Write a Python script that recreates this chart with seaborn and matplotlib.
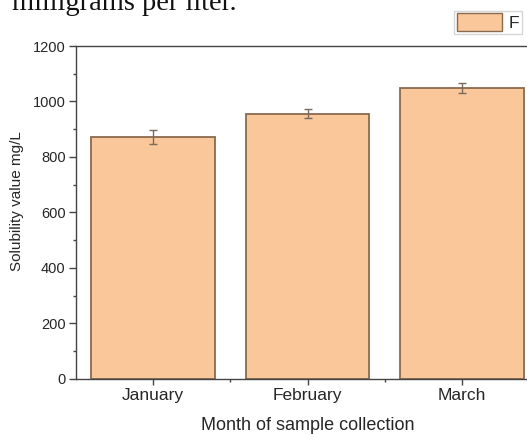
import matplotlib
matplotlib.use("Agg")
import matplotlib.pyplot as plt
from matplotlib.patches import Patch
from matplotlib.ticker import MultipleLocator, FixedLocator
import seaborn as sns
import pandas as pd

months = ["January", "February", "March"]
solubility = [872, 956, 1048]
errors = [25, 17, 19]
series_name = "F"

sns.set_style("ticks")
plt.rcParams["font.family"] = ["Liberation Sans", "DejaVu Sans"]

face = "#F9C799"
edge = "#8A6A4E"
spine = "#444444"

df = pd.DataFrame({"month": months, "value": solubility})

fig = plt.figure(figsize=(5.27, 4.34), dpi=100)
ax = fig.add_axes([0.1442, 0.1274, 0.8786, 0.7666])

sns.barplot(data=df, x="month", y="value", ax=ax, color=face,
            saturation=1, width=0.8, edgecolor=edge, linewidth=1.3,
            errorbar=None)
ax.errorbar(range(len(months)), solubility, yerr=errors, fmt="none",
            ecolor="#7A6A5C", elinewidth=1.0, capsize=3, capthick=1.0)

ax.set_xlim(-0.5, 2.5)
ax.set_ylim(0, 1200)
ax.yaxis.set_major_locator(MultipleLocator(200))
ax.yaxis.set_minor_locator(MultipleLocator(100))
ax.xaxis.set_minor_locator(FixedLocator([0.5, 1.5]))

for s in ax.spines.values():
    s.set_color(spine)
    s.set_linewidth(1.0)

ax.tick_params(axis="y", which="major", length=5.0, width=1.0, color=spine,
               labelsize=10.5, pad=2.5, direction="out")
ax.tick_params(axis="y", which="minor", length=2.5, width=1.0, color=spine,
               direction="out")
ax.tick_params(axis="x", which="major", length=4.0, width=1.0, color=spine,
               labelsize=12.5, pad=3, direction="out")
ax.tick_params(axis="x", which="minor", length=2.2, width=1.0, color=spine,
               direction="out")

ax.set_ylabel("Solubility value mg/L", fontsize=11)
ax.yaxis.set_label_coords(-0.113, 0.535)
ax.set_xlabel("Month of sample collection", fontsize=13, labelpad=10)

handles = [Patch(facecolor=face, edgecolor=edge, linewidth=1.0,
                 label=series_name)]
fig.legend(handles=handles, loc="upper right",
           bbox_to_anchor=(0.9905, 0.975), bbox_transform=fig.transFigure,
           borderaxespad=0, fontsize=12.5, frameon=True, fancybox=False,
           edgecolor="#CCCCCC", handlelength=2.6, handleheight=1.15,
           handletextpad=0.4, borderpad=0.15)

fig.text(0.022, 1 - 10 / 434, "milligrams per liter.",
         family=["Liberation Serif", "DejaVu Serif"], fontsize=20.5,
         va="baseline", ha="left", color="#111111")

fig.savefig("out.png", dpi=100)
